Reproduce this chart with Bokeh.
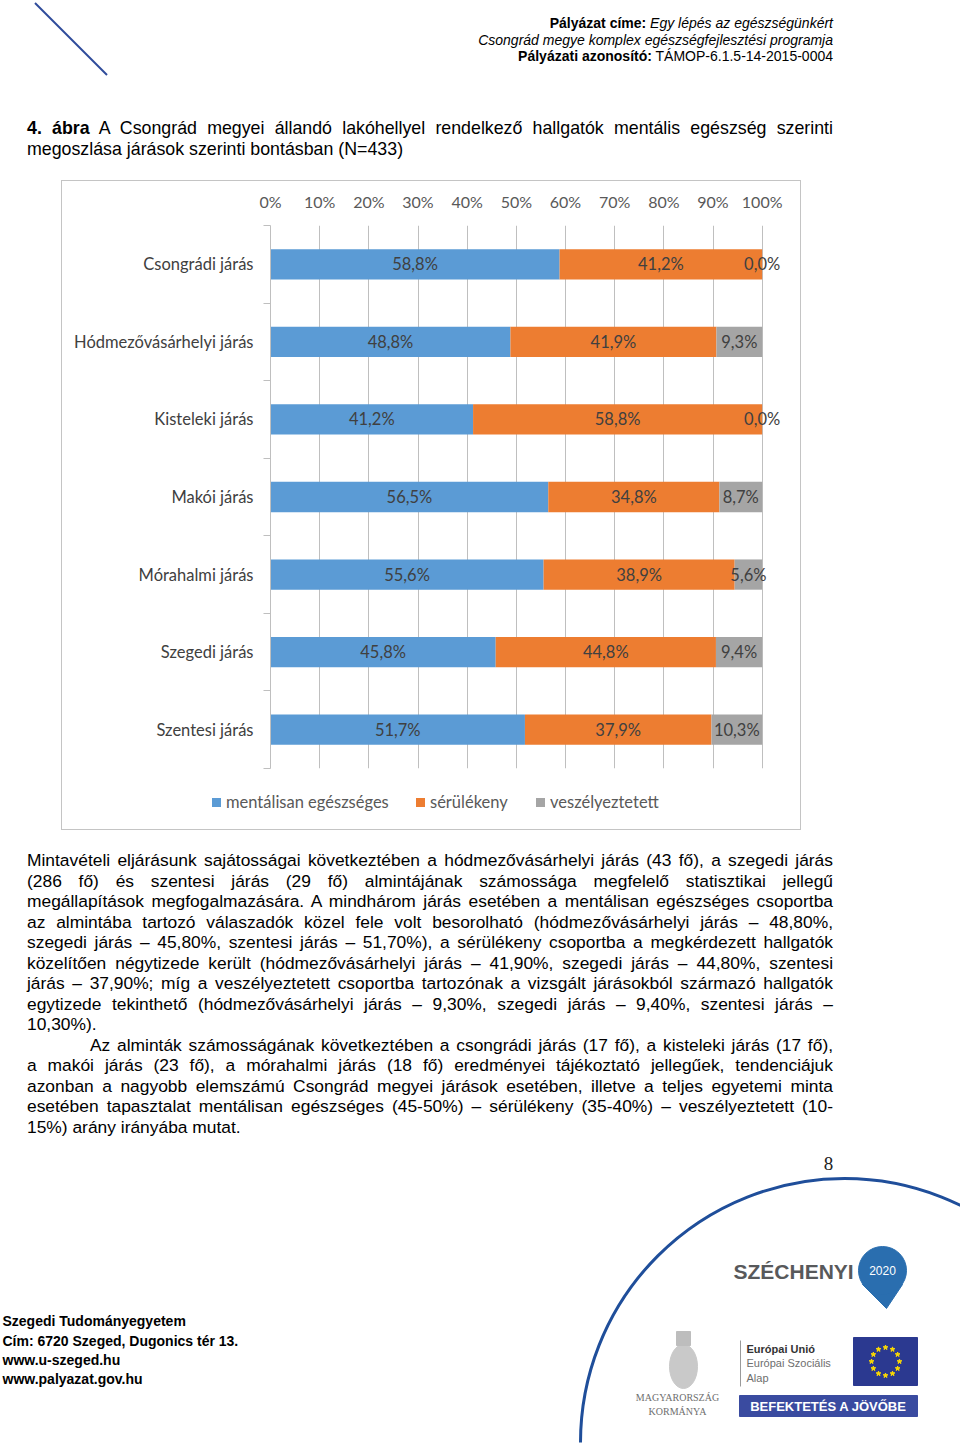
import numpy as np
from bokeh.plotting import figure
from bokeh.models import (Range1d, FixedTicker, NumeralTickFormatter, LinearAxis,
                          ColumnDataSource, Div, Spacer)
from bokeh.layouts import column, row
from bokeh.embed import file_html
from bokeh.resources import INLINE
from bokeh.core.properties import value

# ---------------- data ----------------
categories = ["Csongrádi járás", "Hódmezővásárhelyi járás", "Kisteleki járás", "Makói járás",
              "Mórahalmi járás", "Szegedi járás", "Szentesi járás"]
healthy = [58.8, 48.8, 41.2, 56.5, 55.6, 45.8, 51.7]
vulnerable = [41.2, 41.9, 58.8, 34.8, 38.9, 44.8, 37.9]
at_risk = [0.0, 9.3, 0.0, 8.7, 5.6, 9.4, 10.3]
series_names = ["mentálisan egészséges", "sérülékeny", "veszélyeztetett"]
x_ticks = [0.0, 0.1, 0.2, 0.3, 0.4, 0.5, 0.6, 0.7, 0.8, 0.9, 1.0]

colors = ["#5B9BD5", "#ED7D31", "#A5A5A5"]
CHART_FONT = "Lato"
BOX = "#C4C4C4"

n = len(categories)
ypos = [n - i - 0.5 for i in range(n)]          # category slot centres, first on top
boundaries = list(range(n + 1))                  # category slot edges

# normalized (100% stacked)
rows = list(zip(healthy, vulnerable, at_risk))
fr = [[v / sum(r) for v in r] for r in rows]
src = ColumnDataSource(dict(y=ypos, h=[f[0] for f in fr], v=[f[1] for f in fr], r=[f[2] for f in fr]))

lx, ly, lt = [], [], []
for yc, raw, f in zip(ypos, rows, fr):
    left = 0.0
    for val, frac in zip(raw, f):
        lx.append(left + frac / 2)
        ly.append(yc)
        lt.append(f"{val:.1f}".replace(".", ",") + "%")
        left += frac
lab_src = ColumnDataSource(dict(x=lx, y=ly, t=lt))

# ---------------- chart ----------------
p = figure(width=740, height=610, y_range=Range1d(0, n), x_range=Range1d(0, 1.08),
           x_axis_location="above", y_axis_location=None, output_backend="svg",
           toolbar_location=None, min_border_left=208, min_border_right=1,
           min_border_top=44, min_border_bottom=23,
           styles={"border-top": f"1px solid {BOX}", "border-left": f"1px solid {BOX}",
                   "border-right": f"1px solid {BOX}", "box-sizing": "border-box"})

rs = p.hbar_stack(["h", "v", "r"], y="y", height=0.39, color=colors, line_color=None, source=src)

p.text(x="x", y="y", text="t", source=lab_src, text_font=value(CHART_FONT), text_font_size="16.5px",
       text_color="#404040", text_align="center", text_baseline="middle")

xa = p.xaxis[0]
xa.ticker = FixedTicker(ticks=x_ticks)
xa.formatter = NumeralTickFormatter(format="0%")
xa.axis_line_color = None
xa.major_tick_line_color = None
xa.minor_tick_line_color = None
xa.major_label_standoff = 9
xa.major_label_text_font = CHART_FONT
xa.major_label_text_font_size = "16px"
xa.major_label_text_color = "#595959"

tick_axis = LinearAxis(ticker=FixedTicker(ticks=boundaries), major_label_text_color=None,
                       major_tick_out=7, major_tick_in=0,
                       minor_tick_line_color=None, axis_line_color="#BFBFBF",
                       major_tick_line_color="#BFBFBF", major_label_standoff=0)
cat_axis = LinearAxis(ticker=FixedTicker(ticks=ypos),
                      major_label_overrides={yc: c for yc, c in zip(ypos, categories)},
                      axis_line_color=None, major_tick_line_color=None, minor_tick_line_color=None,
                      major_label_standoff=4, major_label_text_font=CHART_FONT,
                      major_label_text_font_size="16.5px", major_label_text_color="#404040")
p.add_layout(tick_axis, "left")
p.add_layout(cat_axis, "left")

p.ygrid.grid_line_color = None
p.xgrid.grid_line_color = "#BFBFBF"
p.outline_line_color = None

# legend strip (bottom of the chart box)
leg_x = [150, 354, 474]   # square left edges inside the chart box
items = []
for name, col, x0 in zip(series_names, colors, leg_x):
    items.append(f'<div style="position:absolute;left:{x0}px;top:8px;width:9px;height:9px;background:{col};"></div>'
                 f'<div style="position:absolute;left:{x0 + 14}px;top:2px;line-height:20px;font-size:16.5px;'
                 f'font-family:Lato,sans-serif;color:#595959;white-space:nowrap;">{name}</div>')
legend_html = ('<div style="position:relative;width:740px;height:40px;box-sizing:border-box;'
               f'border-left:1px solid {BOX};border-right:1px solid {BOX};border-bottom:1px solid {BOX};">'
               + "".join(items) + '</div>')
legend_div = Div(text=legend_html, width=740, height=40, margin=0)

# ---------------- header ----------------
header_html = """
<div style="position:relative;width:960px;height:180px;font-family:'Liberation Sans',Arial,sans-serif;color:#000;">
<svg style="position:absolute;left:0;top:0" width="960" height="180"><line x1="35" y1="3" x2="107" y2="75" stroke="#2F4B9B" stroke-width="2"/></svg>
<div style="position:absolute;right:127px;top:15px;text-align:right;font-size:14px;line-height:16.5px;white-space:nowrap;">
<b>Pályázat címe:</b> <i>Egy lépés az egészségünkért</i><br>
<i>Csongrád megye komplex egészségfejlesztési programja</i><br>
<b>Pályázati azonosító:</b> TÁMOP-6.1.5-14-2015-0004</div>
<div style="position:absolute;left:27px;top:118px;width:806px;font-size:17.8px;line-height:21px;">
<div style="text-align:justify;text-align-last:justify;"><b>4. ábra</b> A Csongrád megyei állandó lakóhellyel rendelkező hallgatók mentális egészség szerinti</div>
<div>megoszlása járások szerinti bontásban (N=433)</div>
</div></div>
"""
header = Div(text=header_html, width=960, height=180, margin=0)

# ---------------- body text ----------------
body_lines = [
    ("j", 0, "Mintavételi eljárásunk sajátosságai következtében a hódmezővásárhelyi járás (43 fő), a szegedi járás"),
    ("j", 0, "(286 fő) és szentesi járás (29 fő) almintájának számossága megfelelő statisztikai jellegű"),
    ("j", 0, "megállapítások megfogalmazására. A mindhárom járás esetében a mentálisan egészséges csoportba"),
    ("j", 0, "az almintába tartozó válaszadók közel fele volt besorolható (hódmezővásárhelyi járás – 48,80%,"),
    ("j", 0, "szegedi járás – 45,80%, szentesi járás – 51,70%), a sérülékeny csoportba a megkérdezett hallgatók"),
    ("j", 0, "közelítően négytizede került (hódmezővásárhelyi járás – 41,90%, szegedi járás – 44,80%, szentesi"),
    ("j", 0, "járás – 37,90%; míg a veszélyeztetett csoportba tartozónak a vizsgált járásokból származó hallgatók"),
    ("j", 0, "egytizede tekinthető (hódmezővásárhelyi járás – 9,30%, szegedi járás – 9,40%, szentesi járás –"),
    ("l", 0, "10,30%)."),
    ("j", 63, "Az alminták számosságának következtében a csongrádi járás (17 fő), a kisteleki járás (17 fő),"),
    ("j", 0, "a makói járás (23 fő), a mórahalmi járás (18 fő) eredményei tájékoztató jellegűek, tendenciájuk"),
    ("j", 0, "azonban a nagyobb elemszámú Csongrád megyei járások esetében, illetve a teljes egyetemi minta"),
    ("j", 0, "esetében tapasztalat mentálisan egészséges (45-50%) – sérülékeny (35-40%) – veszélyeztetett (10-"),
    ("l", 0, "15%) arány irányába mutat."),
]
parts = []
for mode, indent, txt in body_lines:
    al = "text-align:justify;text-align-last:justify;" if mode == "j" else "text-align:left;"
    parts.append(f'<div style="{al}padding-left:{indent}px;">{txt}</div>')
body_html = ('<div style="position:relative;width:960px;height:310px;font-family:\'Liberation Sans\',Arial,sans-serif;color:#000;">'
             '<div style="position:absolute;left:27px;top:20px;width:806px;font-size:17.4px;line-height:20.5px;">'
             + "".join(parts) + '</div></div>')
body = Div(text=body_html, width=960, height=310, margin=0)

# ---------------- footer ----------------
f = figure(width=960, height=310, x_range=Range1d(0, 960), y_range=Range1d(0, 310),
           output_backend="svg", toolbar_location=None, x_axis_location=None, y_axis_location=None,
           min_border=0)
f.grid.grid_line_color = None
f.outline_line_color = None

def Y(page_y):
    return 1450 - page_y

f.arc(x=[844], y=[Y(1442)], radius=264, start_angle=0, end_angle=np.pi, line_color="#1F4E9A", line_width=3)
f.text(x=[828], y=[Y(1163)], text=["8"], text_font=value("Liberation Serif"), text_font_size="19px",
       text_color="#222222", text_align="center", text_baseline="middle")

foot_lines = ["Szegedi Tudományegyetem", "Cím: 6720 Szeged, Dugonics tér 13.", "www.u-szeged.hu", "www.palyazat.gov.hu"]
foot_y = [1320, 1340, 1359, 1378]
f.text(x=[2] * 4, y=[Y(v) for v in foot_y], text=foot_lines, text_font=value("Liberation Sans"),
       text_font_size="14px", text_font_style="bold", text_color="#000000", text_baseline="middle")

# Széchenyi 2020 logo
f.text(x=[733], y=[Y(1271)], text=["SZÉCHENYI"], text_font=value("Liberation Sans"), text_font_size="21px",
       text_font_style="bold", text_color="#58595B", text_baseline="middle")
f.patch(x=[862, 902, 886], y=[Y(1284), Y(1284), Y(1308)], color="#2A6EAF")
f.circle(x=[882], y=[Y(1270)], radius=24, color="#2A6EAF")
f.text(x=[882], y=[Y(1270)], text=["2020"], text_font=value("Liberation Sans"), text_font_size="12px",
       text_color="white", text_align="center", text_baseline="middle")

# coat of arms and government text
f.ellipse(x=[683], y=[Y(1366)], width=28, height=44, color="#C9C9C9")
f.rect(x=[683], y=[Y(1338)], width=14, height=14, color="#BDBDBD")
f.text(x=[677, 677], y=[Y(1397), Y(1411)], text=["MAGYARORSZÁG", "KORMÁNYA"],
       text_font=value("Liberation Serif"), text_font_size="10px", text_color="#6E6E6E",
       text_align="center", text_baseline="middle")

# EU block
f.segment(x0=[740], y0=[Y(1340)], x1=[740], y1=[Y(1386)], line_color="#9A9A9A", line_width=1)
f.text(x=[746], y=[Y(1348)], text=["Európai Unió"], text_font=value("Liberation Sans"),
       text_font_size="11px", text_font_style="bold", text_color="#333333", text_baseline="middle")
f.text(x=[746, 746], y=[Y(1362), Y(1377)], text=["Európai Szociális", "Alap"],
       text_font=value("Liberation Sans"), text_font_size="11px", text_color="#6E6E6E",
       text_baseline="middle")
f.rect(x=[885], y=[Y(1361)], width=64, height=48, color="#2B3990")
ang = np.linspace(0, 2 * np.pi, 13)[:-1]
f.scatter(x=885 + 14 * np.cos(ang), y=Y(1361) + 14 * np.sin(ang), marker="star", size=5, color="#FFDD00")
f.rect(x=[828], y=[Y(1405.5)], width=178, height=21, color="#3A4BA0")
f.text(x=[828], y=[Y(1405.5)], text=["BEFEKTETÉS A JÖVŐBE"], text_font=value("Liberation Sans"),
       text_font_size="13px", text_font_style="bold", text_color="white", text_align="center",
       text_baseline="middle")

chart_block = column(p, legend_div)
layout = column(header, row(Spacer(width=61, height=650), chart_block, Spacer(width=159, height=650)), body, f)
open("out.html", "w").write(file_html(layout, INLINE))
